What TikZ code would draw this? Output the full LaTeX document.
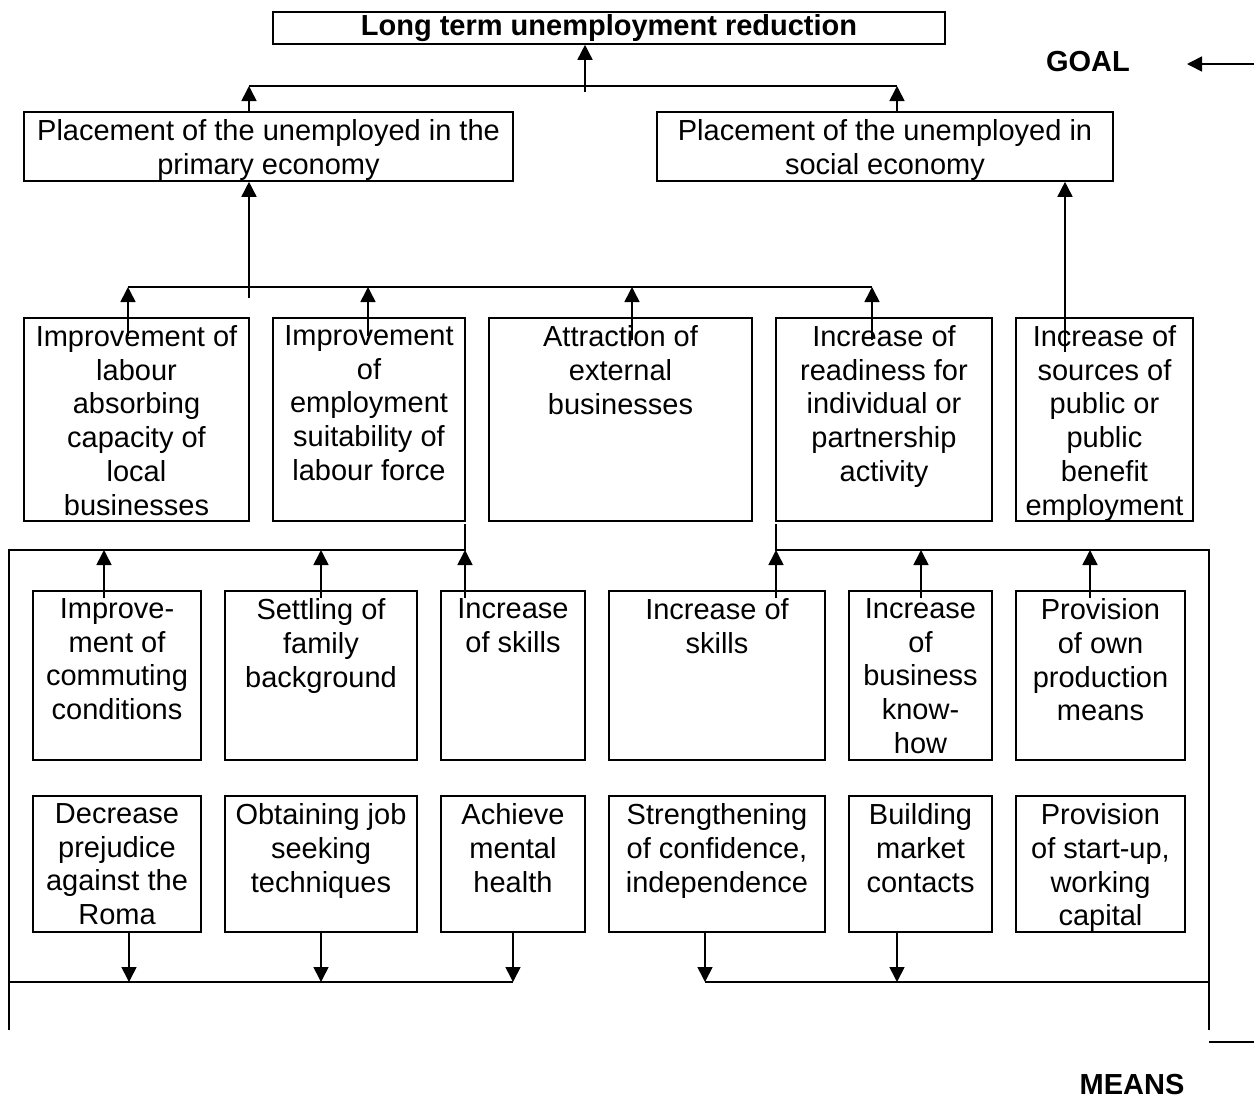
\documentclass[tikz,border=0pt]{standalone}
\usepackage{fontspec}
\setmainfont{Liberation Sans}
\usetikzlibrary{arrows.meta,fit}
\newcommand\fs{\fontsize{29}{33.8}\selectfont}
\tikzset{
  box/.style={draw, line width=1.6pt, inner sep=0pt, rectangle},
  lbl/.style={font=\fs, align=center, inner sep=0pt, anchor=north},
  ln/.style={line width=1.6pt},
  arr/.style={line width=1.6pt, -{Triangle[width=15pt,length=15pt]}},
  tag/.style={font=\fs\bfseries, inner sep=0pt}
}
% name, x1, y1, x2, y2, text
\newcommand\bx[6]{%
  \node[box, fit={(#2,#3) (#4,#5)}] (#1) {};
  \node[lbl, yshift=-8pt] (#1t) at (#1.north) {#6};
}
\begin{document}
\begin{tikzpicture}[x=1pt,y=-1pt]
\useasboundingbox (0,0) rectangle (1254,1120);

% goal
\node[box, fit={(273,12) (945,44)}] (top) {};
\node[tag] (topt) at (top.center) {Long term unemployment reduction};
\bx{pa}{24}{112}{513}{181}{Placement of the unemployed in the\\primary economy}
\bx{pb}{657}{112}{1113}{181}{Placement of the unemployed in\\social economy}

% level 3
\bx{ia}{24}{318}{249}{521}{Improvement of\\labour\\absorbing\\capacity of\\local\\businesses}
\bx{ib}{273}{318}{465}{521}{Improvement\\of\\employment\\suitability of\\labour force}
\bx{ic}{489}{318}{752}{521}{Attraction of\\external\\businesses}
\bx{id}{776}{318}{992}{521}{Increase of\\readiness for\\individual or\\partnership\\activity}
\bx{ie}{1016}{318}{1193}{521}{Increase of\\sources of\\public or\\public\\benefit\\employment}

% level 4
\bx{ma}{33}{591}{201}{760}{Improve-\\ment of\\commuting\\conditions}
\bx{mb}{225}{591}{417}{760}{Settling of\\family\\background}
\bx{mc}{441}{591}{585}{760}{Increase\\of skills}
\bx{md}{609}{591}{825}{760}{Increase of\\skills}
\bx{me}{849}{591}{992}{760}{Increase\\of\\business\\know-\\how}
\bx{mf}{1016}{591}{1185}{760}{Provision\\of own\\production\\means}

% level 5
\bx{na}{33}{796}{201}{932}{Decrease\\prejudice\\against the\\Roma}
\bx{nb}{225}{796}{417}{932}{Obtaining job\\seeking\\techniques}
\bx{nc}{441}{796}{585}{932}{Achieve\\mental\\health}
\bx{nd}{609}{796}{825}{932}{Strengthening\\of confidence,\\independence}
\bx{ne}{849}{796}{992}{932}{Building\\market\\contacts}
\bx{nf}{1016}{796}{1185}{932}{Provision\\of start-up,\\working\\capital}

% bus 1 (to goal)
\coordinate (b1a) at (585,92);
\coordinate (b1L) at (249,86);
\coordinate (b1R) at (897,86);
\draw[ln] (b1L) -- (b1R);
\draw[arr] (b1a) -- (b1a |- top.south);
\draw[arr] (b1L |- pa.north) -- (b1L);
\draw[arr] (b1R |- pb.north) -- (b1R);

% bus 2 (to primary economy)
\coordinate (b2a) at (249,298);
\coordinate (b2L) at (128,287);
\coordinate (b2R) at (872,287);
\draw[ln] (b2L) -- (b2R);
\draw[arr] (b2a) -- (b2a |- pa.south);
\coordinate (sa) at (128,336);
\coordinate (sb) at (368,336);
\coordinate (sc) at (632,340);
\coordinate (sd) at (872,340);
\draw[arr] (sa) -- (sa |- b2L);
\draw[arr] (sb) -- (sb |- b2L);
\draw[arr] (sc) -- (sc |- b2L);
\draw[arr] (sd) -- (sd |- b2L);
% public employment to social economy
\coordinate (se) at (1065,352);
\draw[arr] (se) -- (se |- pb.south);

% left means bus
\coordinate (lb0) at (465,524);
\coordinate (lb1) at (465,550);
\coordinate (lb2) at (9,550);
\coordinate (lb3) at (9,1030);
\draw[ln] (lb0) -- (lb1) -- (lb2) -- (lb3);
\coordinate (ua) at (104,598);
\coordinate (ub) at (321,598);
\coordinate (uc) at (465,598);
\draw[arr] (ua) -- (ua |- lb1);
\draw[arr] (ub) -- (ub |- lb1);
\draw[arr] (uc) -- (uc |- lb1);
\coordinate (lbot) at (513,982);
\draw[ln] (lb2 |- lbot) -- (lbot);
\draw[arr] (na.south -| 129,0) -- (129,982);
\draw[arr] (nb.south -| 321,0) -- (321,982);
\draw[arr] (nc.south -| 513,0) -- (lbot);

% right means bus
\coordinate (rb0) at (776,524);
\coordinate (rb1) at (776,550);
\coordinate (rb2) at (1209,550);
\coordinate (rb3) at (1209,1030);
\draw[ln] (rb0) -- (rb1) -- (rb2) -- (rb3);
\coordinate (ud) at (776,598);
\coordinate (ue) at (921,598);
\coordinate (uf) at (1090,598);
\draw[arr] (ud) -- (ud |- rb1);
\draw[arr] (ue) -- (ue |- rb1);
\draw[arr] (uf) -- (uf |- rb1);
\coordinate (rbot) at (705,982);
\draw[ln] (rbot) -- (rbot -| rb2);
\draw[arr] (nd.south -| 705,0) -- (rbot);
\draw[arr] (ne.south -| 897,0) -- (897,982);

% margin marks
\coordinate (mm0) at (1209,1042);
\coordinate (mm1) at (1254,1042);
\draw[ln] (mm0) -- (mm1);
\coordinate (g0) at (1254,64);
\coordinate (g1) at (1187,64);
\draw[arr] (g0) -- (g1);

\node[tag] (goal) at (1088,62) {GOAL};
\node[tag] (means) at (1132,1085) {MEANS};
\end{tikzpicture}
\end{document}
